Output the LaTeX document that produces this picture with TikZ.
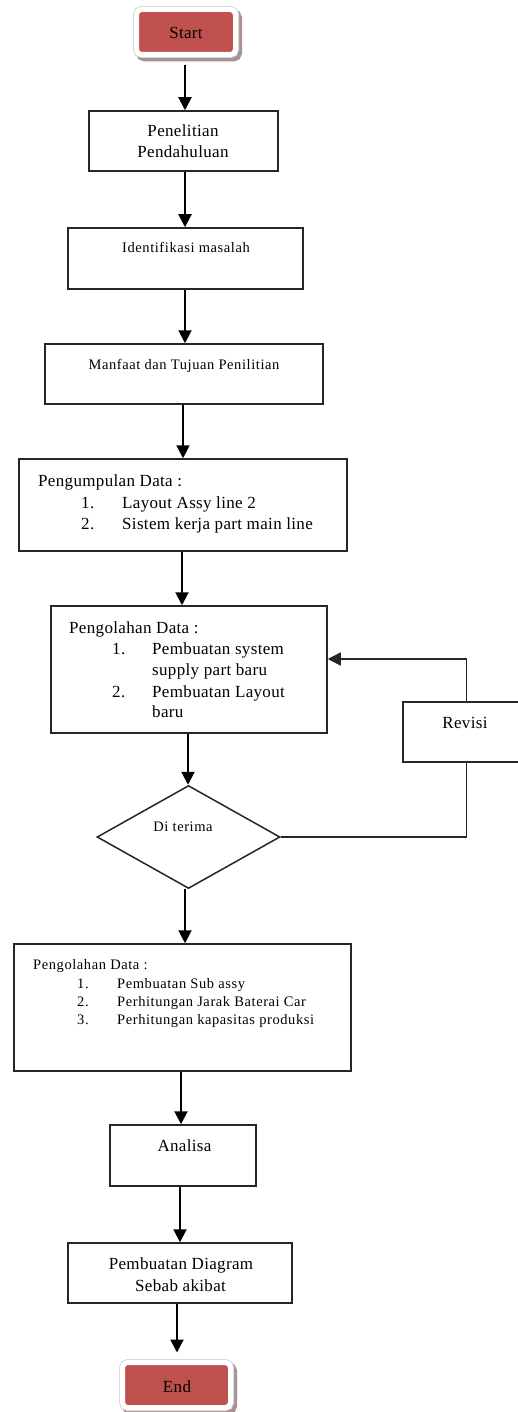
\documentclass[tikz,border=0pt]{standalone}
\usepackage{fontspec}
\setmainfont{Liberation Serif}
\newfontfamily\lsfont[LetterSpace=2]{Liberation Serif}
\newfontfamily\ssfont[LetterSpace=4]{Liberation Serif}
\usetikzlibrary{shapes.geometric,arrows.meta}
\definecolor{termred}{HTML}{C0504D}
\definecolor{termshadow}{RGB}{170,145,145}
\tikzset{
  box/.style={draw=black!85, line width=1.5pt, rectangle, inner sep=0pt},
  dia/.style={draw=black!85, line width=1.5pt, diamond, inner sep=0pt},
  arr/.style={line width=2pt, -{Triangle[length=13pt,width=13pt]}},
  fb/.style={draw=black!85, line width=1.5pt},
  fbarr/.style={draw=black!85, line width=1.5pt, -{Triangle[length=13pt,width=13pt]}},
  big/.style={font=\lsfont\fontsize{17}{21}\selectfont, inner sep=0pt, text=black},
  small/.style={font=\ssfont\fontsize{14.5}{18}\selectfont, inner sep=0pt, text=black},
  term/.style={fill=termred, draw=white, line width=5pt, rounded corners=5pt,
    preaction={draw=termshadow, fill=termshadow, line width=7pt,
      transform canvas={shift={(3pt,-3.5pt)}}},
    preaction={draw=black!15, line width=7pt},
    inner sep=0pt}
}
\begin{document}
\begin{tikzpicture}[x=1pt,y=-1pt]
\useasboundingbox (0,0) rectangle (518,1412);
\fill[white] (0,0) rectangle (518,1412);

% x positions of vertical connectors
\coordinate (x185) at (185,0);
\coordinate (x183) at (183,0);
\coordinate (x182) at (182,0);
\coordinate (x188) at (188,0);
\coordinate (x181) at (181,0);
\coordinate (x180) at (180,0);
\coordinate (x177) at (177,0);
\coordinate (y659) at (0,659);

% terminals
\node[term, minimum width=99pt, minimum height=45pt] (start) at (186,32) {};
\node[big, anchor=base] (tstart) at (186,39) {Start};
\node[term, minimum width=108pt, minimum height=45pt] (end) at (176.5,1385) {};
\node[big, anchor=base] (tend) at (177,1392) {End};

% boxes
\node[box, minimum width=189pt, minimum height=60pt] (b1) at (183.5,141) {};
\node[big, anchor=base] (t1a) at (183,137) {Penelitian};
\node[big, anchor=base] (t1b) at (183,158) {Pendahuluan};

\node[box, minimum width=235pt, minimum height=61pt] (b2) at (185.5,258.5) {};
\node[small, anchor=base] (t2) at (186,253) {Identifikasi masalah};

\node[box, minimum width=278pt, minimum height=60pt] (b3) at (184,374) {};
\node[small, anchor=base] (t3) at (184,369) {Manfaat dan Tujuan Penilitian};

\node[box, minimum width=328pt, minimum height=92pt] (b4) at (183,505) {};
\node[big, anchor=base west] (t4) at (38,486) {Pengumpulan Data :};
\node[big, anchor=base west] (t4n1) at (81,508) {1.};
\node[big, anchor=base west] (t4i1) at (122,508) {Layout Assy line 2};
\node[big, anchor=base west] (t4n2) at (81,529) {2.};
\node[big, anchor=base west] (t4i2) at (122,529) {Sistem kerja part main line};

\node[box, minimum width=276pt, minimum height=127pt] (b5) at (189,669.5) {};
\node[big, anchor=base west] (t5) at (69,633) {Pengolahan Data :};
\node[big, anchor=base west] (t5n1) at (112,654) {1.};
\node[big, anchor=base west] (t5i1) at (152,654) {Pembuatan system};
\node[big, anchor=base west] (t5i1b) at (152,675) {supply part baru};
\node[big, anchor=base west] (t5n2) at (112,697) {2.};
\node[big, anchor=base west] (t5i2) at (152,697) {Pembuatan Layout};
\node[big, anchor=base west] (t5i2b) at (152,717) {baru};

\node[box, minimum width=127pt, minimum height=60pt] (rev) at (466.5,732) {};
\node[big, anchor=base] (trev) at (465,728) {Revisi};

\node[dia, minimum width=183pt, minimum height=103pt] (d) at (188.5,837) {};
\node[small, anchor=base] (td) at (183,831) {Di terima};

\node[box, minimum width=337pt, minimum height=127pt] (b6) at (182.5,1007.5) {};
\node[small, anchor=base west] (t6) at (33,969) {Pengolahan Data :};
\node[small, anchor=base west] (t6n1) at (77,988) {1.};
\node[small, anchor=base west] (t6i1) at (117,988) {Pembuatan Sub assy};
\node[small, anchor=base west] (t6n2) at (77,1006) {2.};
\node[small, anchor=base west] (t6i2) at (117,1006) {Perhitungan Jarak Baterai Car};
\node[small, anchor=base west] (t6n3) at (77,1024) {3.};
\node[small, anchor=base west] (t6i3) at (117,1024) {Perhitungan kapasitas produksi};

\node[box, minimum width=146pt, minimum height=61pt] (b7) at (183,1155.5) {};
\node[big, anchor=base] (t7) at (184.5,1151) {Analisa};

\node[box, minimum width=224pt, minimum height=60pt] (b8) at (180,1273) {};
\node[big, anchor=base] (t8a) at (181,1269) {Pembuatan Diagram};
\node[big, anchor=base] (t8b) at (180.5,1291) {Sebab akibat};

% connectors
\draw[arr] ([yshift=-8pt]start.south -| x185) -- (b1.north -| x185);
\draw[arr] (b1.south -| x185) -- (b2.north -| x185);
\draw[arr] (b2.south -| x185) -- (b3.north -| x185);
\draw[arr] (b3.south -| x183) -- (b4.north -| x183);
\draw[arr] (b4.south -| x182) -- (b5.north -| x182);
\draw[arr] (b5.south -| x188) -- (d.north -| x188);
\draw[arr] (d.south -| x185) -- (b6.north -| x185);
\draw[arr] (b6.south -| x181) -- (b7.north -| x181);
\draw[arr] (b7.south -| x180) -- (b8.north -| x180);
\draw[arr] (b8.south -| x177) -- ([yshift=7.5pt]end.north -| x177);

% feedback loop
\draw[fb] (d.east) -| (rev.south);
\draw[fbarr] (rev.north) |- (b5.east |- y659);
\end{tikzpicture}
\end{document}
